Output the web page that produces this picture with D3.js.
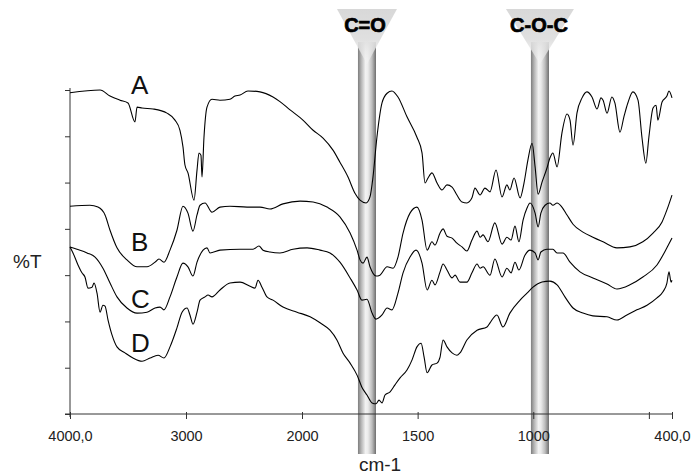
<!DOCTYPE html>
<html><head><meta charset="utf-8">
<script src="https://cdn.jsdelivr.net/npm/d3@7/dist/d3.min.js"></script>
<style>
body{margin:0;background:#fff}
svg{display:block}
text{font-family:"Liberation Sans",Arial,Helvetica,sans-serif}
</style>
</head><body>
<svg id="chart" width="694" height="476"></svg>
<script>
// ---------- data ----------
const xTickValues = [4000, 3000, 2000, 1500, 1000, 500, 400];
const xTickLabels = ["4000,0", "3000", "2000", "1500", "1000", "", "400,0"];
const yTickValues = [0, 10, 20, 30, 40, 50, 60, 70];
const xTitle = "cm-1";
const yTitle = "%T";
const seriesNames = ["A", "B", "C", "D"];
const bandNames = ["C=O", "C-O-C"];
const bandFrom = [1758, 1010];
const bandTo = [1680, 932];

const seriesA = [[4000,69.4],[3741,70.0],[3655,68.7],[3569,67.8],[3500,67.2],[3440,63.1],[3422,66.3],[3379,66.1],[3284,65.9],[3164,65.0],[3095,63.5],[3052,61.3],[3026,57.7],[3009,53.8],[2983,52.1],[2931,46.2],[2905,52.7],[2888,56.4],[2871,55.9],[2862,51.2],[2845,59.8],[2819,66.3],[2776,68.0],[2707,67.8],[2621,68.0],[2578,68.7],[2534,68.9],[2466,69.8],[2362,69.6],[2250,68.5],[2190,67.5],[2103,65.7],[1996,63.5],[1952,61.3],[1909,59.6],[1866,57.0],[1836,54.4],[1801,51.2],[1771,47.7],[1749,46.2],[1723,45.6],[1706,46.9],[1693,51.2],[1676,59.8],[1654,67.2],[1632,69.3],[1611,69.8],[1585,68.5],[1546,64.2],[1503,59.8],[1481,56.4],[1468,49.9],[1455,51.0],[1438,52.1],[1416,49.9],[1395,48.4],[1373,49.5],[1351,49.0],[1330,47.3],[1308,45.8],[1287,45.6],[1265,46.7],[1252,48.8],[1230,47.3],[1209,48.8],[1187,48.0],[1161,52.7],[1135,46.9],[1114,49.5],[1101,48.4],[1083,51.0],[1057,46.7],[1040,49.9],[1023,54.9],[1005,58.5],[992,53.4],[979,47.5],[962,50.1],[941,53.1],[928,55.3],[915,56.4],[897,53.4],[876,60.7],[854,64.8],[841,63.5],[828,58.1],[811,65.0],[789,68.3],[768,69.6],[746,68.5],[724,65.9],[707,68.3],[698,67.8],[681,65.0],[660,68.5],[647,67.2],[625,60.9],[608,64.2],[591,67.2],[569,69.6],[547,67.8],[530,59.8],[513,54.2],[500,59.8],[482,66.1],[469,66.7],[461,63.5],[443,67.4],[422,68.7],[413,69.8],[400,68.3]];

const seriesB = [[4000,44.9],[3828,45.1],[3759,44.7],[3698,43.0],[3655,39.7],[3595,35.9],[3509,33.3],[3422,31.8],[3336,31.8],[3267,32.8],[3233,33.5],[3190,32.8],[3138,35.4],[3078,39.7],[3026,44.9],[2983,43.4],[2940,39.5],[2905,43.0],[2879,45.1],[2836,45.6],[2776,43.6],[2707,44.7],[2621,44.9],[2474,44.7],[2362,44.7],[2276,44.3],[2164,45.4],[2017,46.0],[1952,45.8],[1892,44.7],[1836,42.6],[1792,39.1],[1762,35.4],[1749,33.3],[1736,32.6],[1719,33.9],[1706,31.8],[1680,29.8],[1663,30.0],[1632,31.8],[1606,31.5],[1585,33.9],[1563,39.1],[1533,43.4],[1503,44.7],[1481,41.9],[1459,35.4],[1438,37.2],[1425,36.5],[1403,39.1],[1390,40.0],[1373,38.4],[1351,38.0],[1330,36.9],[1308,36.1],[1287,35.2],[1265,37.6],[1243,39.5],[1230,38.2],[1217,38.7],[1196,37.2],[1166,41.3],[1135,36.7],[1114,38.2],[1096,37.6],[1079,40.6],[1062,37.2],[1044,41.9],[1027,44.5],[1014,45.6],[992,43.4],[979,40.4],[967,43.4],[949,45.1],[928,45.6],[915,45.1],[897,45.6],[876,44.7],[854,43.0],[828,41.0],[785,39.3],[742,38.2],[698,37.2],[638,35.9],[582,36.1],[526,37.2],[482,39.1],[443,41.5],[422,44.1],[400,47.3]];

const seriesC = [[4000,36.1],[3940,35.6],[3853,34.8],[3784,33.9],[3716,31.5],[3655,28.3],[3595,25.3],[3509,22.9],[3422,21.8],[3336,22.0],[3267,22.9],[3224,23.1],[3190,22.5],[3138,25.3],[3078,29.6],[3026,32.6],[2983,31.8],[2940,29.8],[2905,32.8],[2853,35.4],[2819,35.9],[2793,34.8],[2707,35.4],[2534,35.6],[2422,35.6],[2371,36.3],[2336,35.4],[2276,35.0],[2190,34.8],[2078,35.6],[1978,35.9],[1922,35.4],[1879,34.8],[1836,32.8],[1792,29.4],[1762,26.8],[1741,24.6],[1719,24.8],[1697,21.8],[1680,20.5],[1654,21.4],[1632,22.9],[1611,22.5],[1585,26.1],[1563,30.5],[1533,33.9],[1507,35.4],[1481,32.6],[1459,26.8],[1438,28.9],[1425,27.9],[1403,30.7],[1390,32.4],[1373,31.1],[1351,29.4],[1338,30.0],[1317,28.5],[1287,28.5],[1265,30.5],[1243,32.4],[1230,31.5],[1217,31.8],[1187,30.0],[1166,33.5],[1135,29.6],[1114,31.5],[1096,30.5],[1079,32.8],[1062,31.1],[1036,34.3],[1014,35.4],[992,34.8],[979,33.3],[967,35.0],[941,35.6],[915,35.6],[897,34.8],[871,34.8],[841,32.8],[798,30.7],[742,29.4],[681,28.1],[638,27.0],[582,27.9],[526,29.6],[465,32.2],[422,35.9],[400,38.0]];

const seriesD = [[4000,36.1],[3974,34.8],[3931,32.2],[3897,30.5],[3871,29.6],[3845,27.2],[3810,27.4],[3793,28.3],[3767,26.1],[3741,22.0],[3716,23.5],[3698,23.3],[3672,20.3],[3638,17.1],[3595,14.5],[3526,13.2],[3457,12.1],[3379,11.4],[3310,12.1],[3241,12.7],[3190,12.1],[3138,14.5],[3078,18.6],[3034,22.0],[2991,22.9],[2966,21.4],[2940,19.4],[2905,22.0],[2879,24.6],[2836,25.3],[2810,25.7],[2776,25.3],[2707,26.8],[2621,28.3],[2534,28.5],[2448,27.6],[2405,27.2],[2379,28.9],[2345,27.4],[2302,25.3],[2250,24.6],[2164,23.1],[2043,22.0],[1965,21.0],[1922,19.7],[1879,18.1],[1849,16.0],[1823,13.2],[1792,11.0],[1762,8.4],[1741,5.8],[1719,4.1],[1697,2.4],[1680,2.2],[1667,3.0],[1654,2.4],[1641,4.1],[1619,4.8],[1598,6.3],[1576,7.8],[1546,9.5],[1524,11.7],[1503,14.5],[1485,15.3],[1472,12.3],[1459,8.9],[1438,10.6],[1416,11.0],[1403,12.3],[1390,16.0],[1373,14.5],[1351,13.2],[1330,12.7],[1317,13.2],[1287,16.0],[1243,18.1],[1200,18.8],[1187,19.7],[1157,21.4],[1131,18.8],[1101,21.8],[1057,24.6],[1027,26.1],[1001,27.4],[962,28.5],[928,28.7],[897,27.9],[863,25.3],[828,22.9],[785,21.8],[742,21.2],[681,21.0],[638,20.3],[595,21.4],[552,22.5],[508,23.5],[465,25.1],[439,26.4],[422,28.3],[413,30.7],[404,28.5],[400,28.9]];

const allSeries = [seriesA, seriesB, seriesC, seriesD];

// ---------- layout ----------
const svg = d3.select("#chart");
const x = d3.scaleLinear().domain([4000, 2000, 400]).range([70, 302, 672]);
const y = d3.scaleLinear().domain([0, 70]).range([414, 90]);

const defs = svg.append("defs");
const barGrad = defs.append("linearGradient").attr("id", "barGrad")
  .attr("x1", "0%").attr("x2", "100%").attr("y1", "0%").attr("y2", "0%");
[[0, "#7d7d7d"], [0.18, "#b4b4b4"], [0.42, "#f2f2f2"], [0.55, "#ececec"], [0.78, "#bdbdbd"], [1, "#6e6e6e"]]
  .forEach(([o, c]) => barGrad.append("stop").attr("offset", o).attr("stop-color", c));
const triGrad = defs.append("linearGradient").attr("id", "triGrad")
  .attr("x1", "0%").attr("x2", "0%").attr("y1", "0%").attr("y2", "100%");
[[0, "#d8d8d8", 1], [0.55, "#dedede", 0.95], [1, "#f4f4f4", 0.55]]
  .forEach(([o, c, op]) => triGrad.append("stop").attr("offset", o).attr("stop-color", c).attr("stop-opacity", op));

// bands (behind curves)
const bandG = svg.append("g");
bandNames.forEach((name, i) => {
  const x0 = x(bandFrom[i]), x1 = x(bandTo[i]);
  const cx = (x0 + x1) / 2;
  bandG.append("rect").attr("x", x0).attr("y", 42).attr("width", x1 - x0).attr("height", 412)
    .attr("fill", "url(#barGrad)");
  const hw = i === 0 ? 30 : 34;
  bandG.append("path")
    .attr("d", `M${cx - hw},9 L${cx + hw},9 L${cx},64 Z`)
    .attr("fill", "url(#triGrad)");
  bandG.append("text").attr("x", cx - (i === 0 ? 2 : 1)).attr("y", 32)
    .attr("text-anchor", "middle").attr("font-size", 20).attr("font-weight", "bold")
    .attr("fill", "#000").attr("stroke", "#000").attr("stroke-width", 0.7)
    .text(name);
});

// axes
const axisColor = "#333";
const yAxis = svg.append("g").attr("transform", "translate(70,0)")
  .call(d3.axisLeft(y).tickValues(yTickValues).tickFormat("").tickSizeInner(5).tickSizeOuter(0));
yAxis.select(".domain").attr("stroke", axisColor).attr("d", `M0,88 V417`);
yAxis.selectAll(".tick line").attr("stroke", axisColor);

const xAxis = svg.append("g").attr("transform", "translate(0,414)")
  .call(d3.axisBottom(x).tickValues(xTickValues).tickFormat((d, i) => xTickLabels[i]).tickSizeInner(5).tickSizeOuter(0).tickPadding(12));
xAxis.select(".domain").attr("stroke", axisColor).attr("d", `M65,0 H672`);
xAxis.selectAll(".tick line").attr("stroke", axisColor).attr("y1", -2).attr("y2", 5);
xAxis.selectAll(".tick text").attr("font-size", 14.5).attr("fill", "#222")
  .attr("font-family", "'Liberation Sans',Arial,sans-serif");

// curves
const line = d3.line().x(d => x(d[0])).y(d => y(d[1])).curve(d3.curveMonotoneX);
svg.append("g").selectAll("path.spec").data(allSeries).join("path")
  .attr("class", "spec").attr("d", line)
  .attr("fill", "none").attr("stroke", "#000").attr("stroke-width", 1.1)
  .attr("stroke-linejoin", "round");

// series labels (anchored in data coordinates)
const labelAnchor = {A: [3474, 69.1], B: [3474, 35.2], C: [3474, 22.9], D: [3474, 13.4]};
svg.append("g").selectAll("text").data(seriesNames).join("text")
  .attr("x", d => x(labelAnchor[d][0])).attr("y", d => y(labelAnchor[d][1]))
  .attr("font-size", 26).attr("fill", "#111").text(d => d);

// titles
svg.append("text").attr("x", 380).attr("y", 471).attr("text-anchor", "middle")
  .attr("font-size", 19).attr("fill", "#222").text(xTitle);
svg.append("text").attr("x", 13).attr("y", 268)
  .attr("font-size", 19).attr("fill", "#222").text(yTitle);
</script>
</body></html>
